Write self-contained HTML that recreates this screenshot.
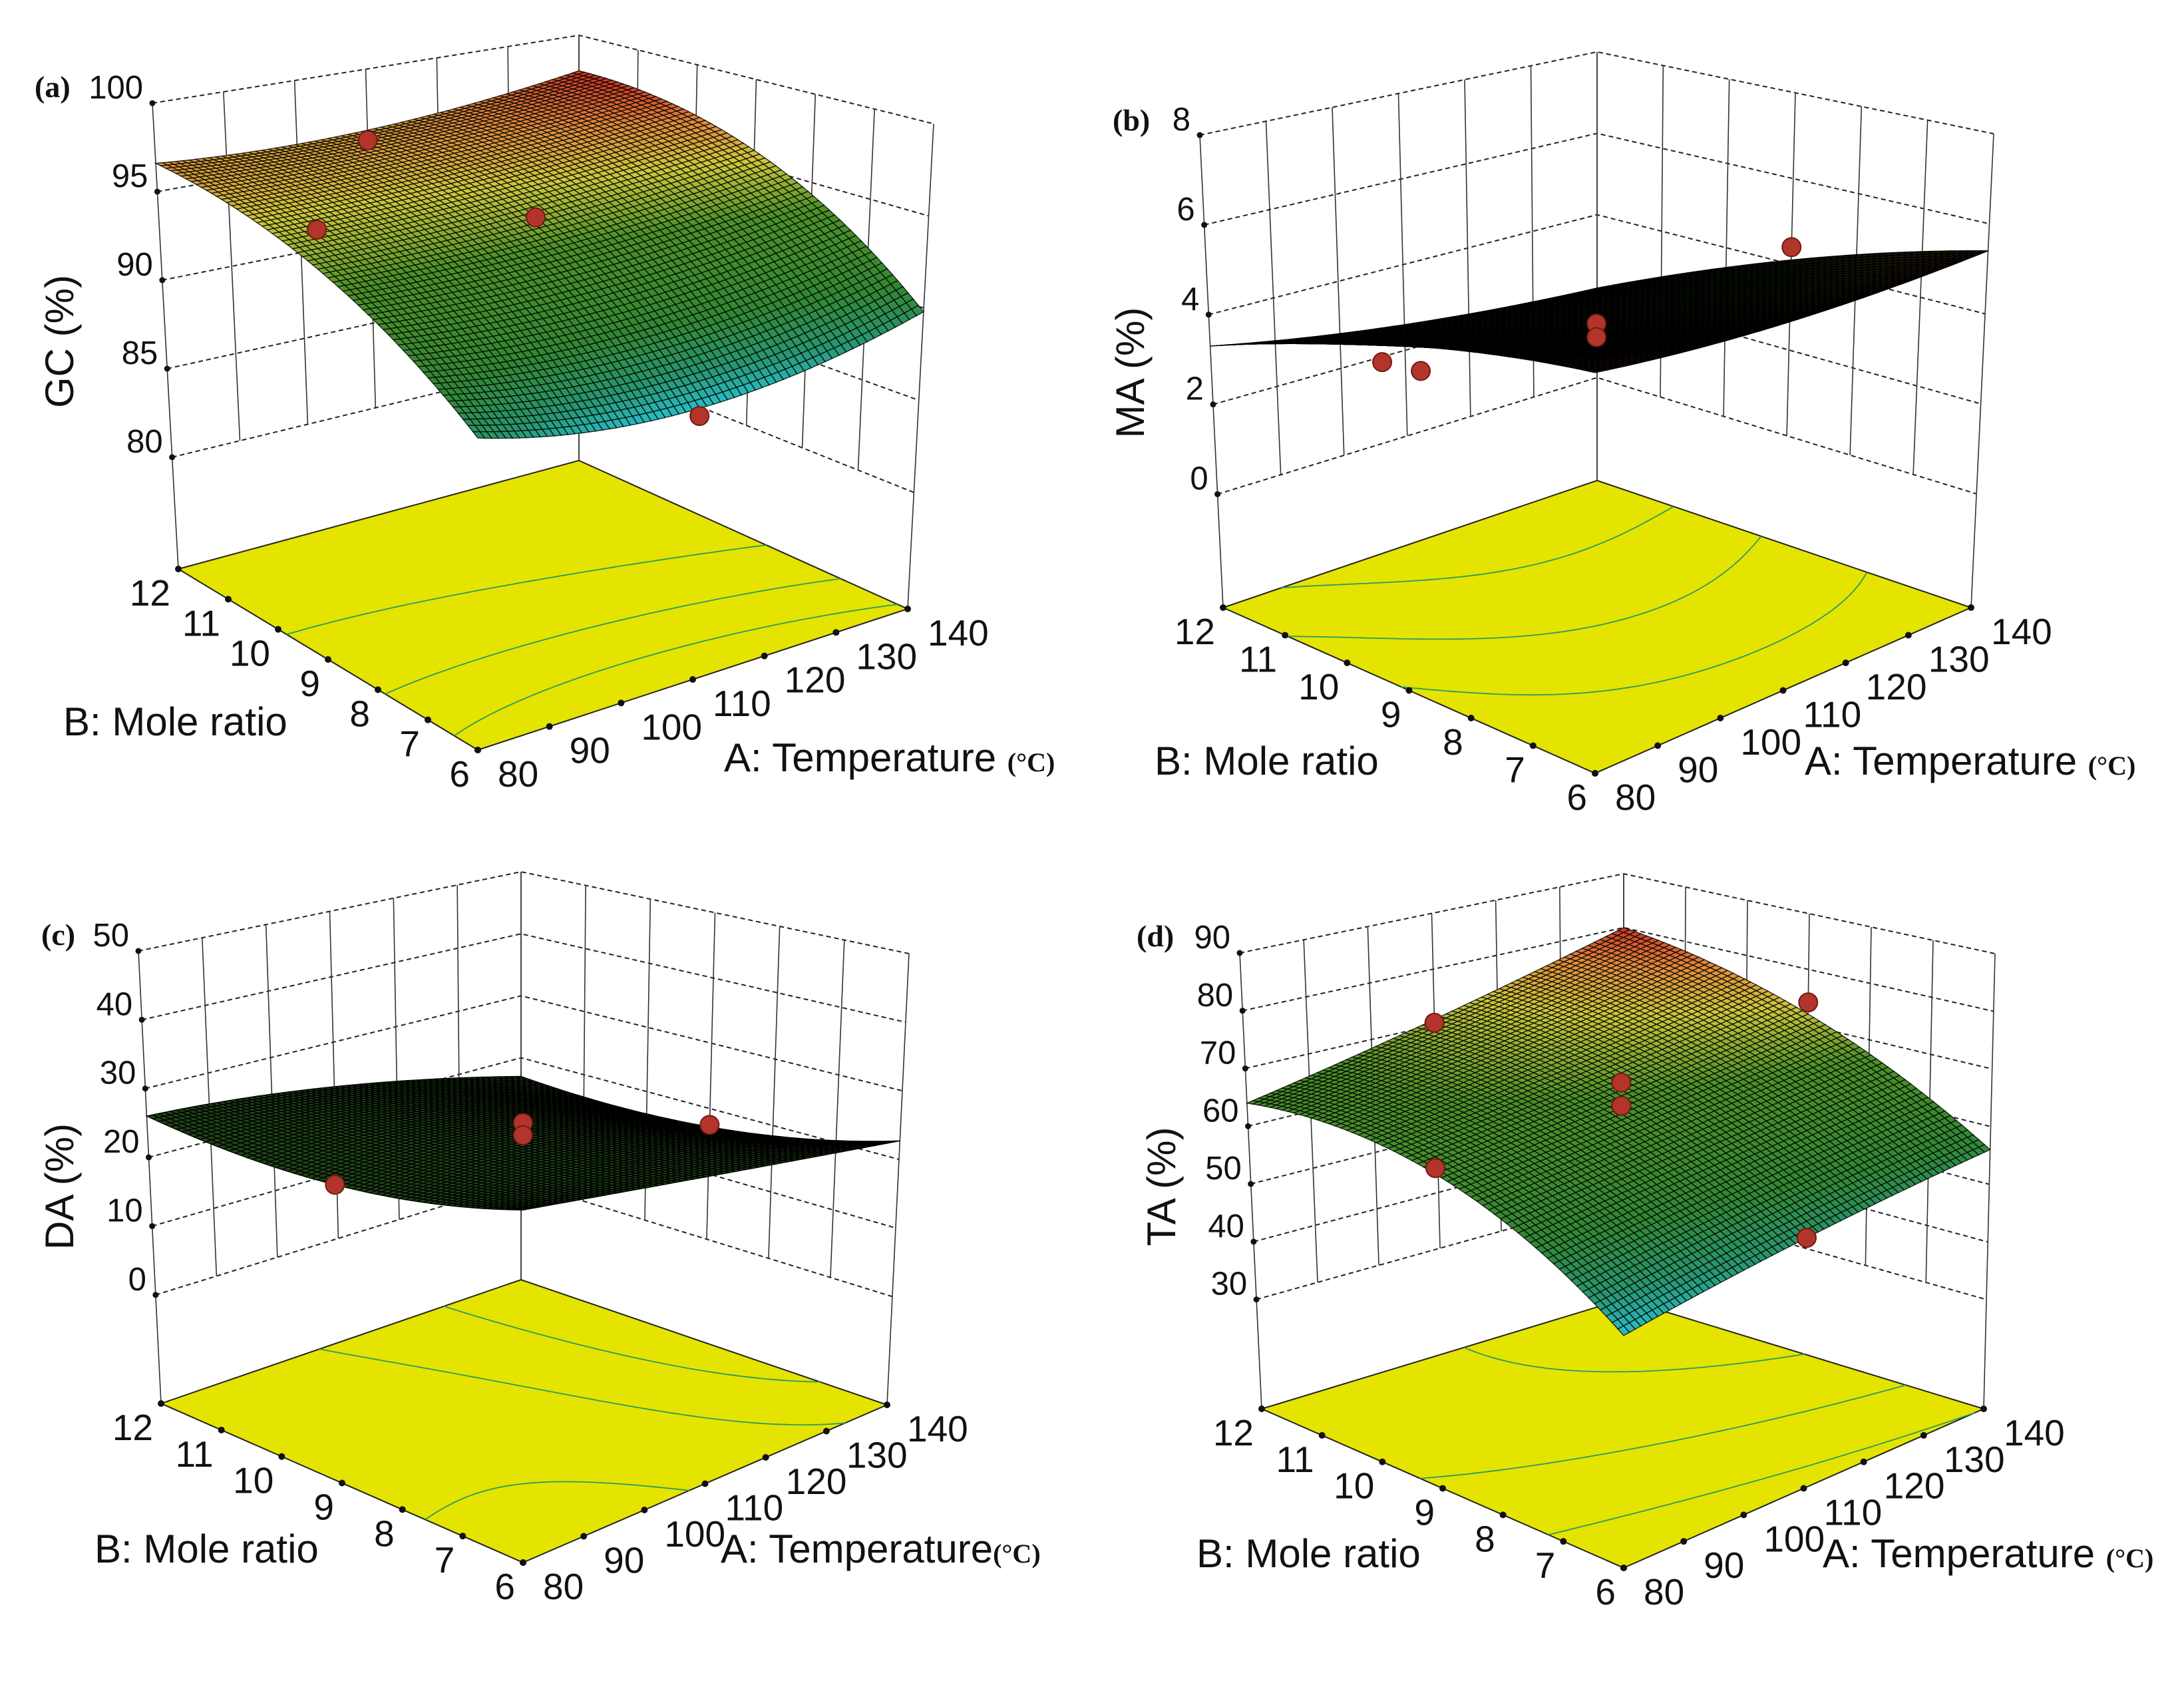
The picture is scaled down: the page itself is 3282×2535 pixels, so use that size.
<!DOCTYPE html>
<html><head><meta charset="utf-8"><style>
html,body{margin:0;padding:0;background:#fff;}
svg{display:block;}
text{font-family:"Liberation Sans",sans-serif;fill:#111;}
.pl{font-family:"Liberation Serif",serif;font-weight:bold;font-size:46px;}
.ttl{font-size:60px;}
.unit{font-family:"Liberation Serif",serif;font-weight:bold;font-size:40px;}
</style></head><body>
<svg id="chart" xmlns="http://www.w3.org/2000/svg" width="3282" height="2535" viewBox="0 0 3282 2535">
<rect x="0" y="0" width="3282" height="2535" fill="#fff"/>
<g id="layer"></g>
<text class="pl" x="52" y="146">(a)</text>
<text class="pl" x="1672" y="196">(b)</text>
<text class="pl" x="62" y="1420">(c)</text>
<text class="pl" x="1708" y="1422">(d)</text>
<text class="ttl" transform="translate(110,513) rotate(-90)" text-anchor="middle">GC (%)</text>
<text class="ttl" transform="translate(1719,560) rotate(-90)" text-anchor="middle">MA (%)</text>
<text class="ttl" transform="translate(110,1783) rotate(-90)" text-anchor="middle">DA (%)</text>
<text class="ttl" transform="translate(1766,1783) rotate(-90)" text-anchor="middle">TA (%)</text>
<text class="ttl" x="95" y="1105">B: Mole ratio</text>
<text class="ttl" x="1088" y="1159">A: Temperature <tspan class="unit">(°C)</tspan></text>
<text class="ttl" x="1735" y="1164">B: Mole ratio</text>
<text class="ttl" x="2712" y="1164">A: Temperature <tspan class="unit">(°C)</tspan></text>
<text class="ttl" x="142" y="2348">B: Mole ratio</text>
<text class="ttl" x="1083" y="2348">A: Temperature<tspan class="unit">(°C)</tspan></text>
<text class="ttl" x="1798" y="2355">B: Mole ratio</text>
<text class="ttl" x="2739" y="2355">A: Temperature <tspan class="unit">(°C)</tspan></text>
</svg>
<script>
// ---- data ----
const tempTicks = [80, 90, 100, 110, 120, 130, 140];
const moleTicks = [6, 7, 8, 9, 10, 11, 12];
const A_LEVELS = [80, 110, 140];
const B_LEVELS = [6, 9, 12];
// response grids: rows = B (6, 9, 12), cols = A (80, 110, 140)
const gcSurface = [[89.3, 87.8, 89.8], [94.4, 94.7, 95.9], [96.6, 96.4, 97.8]];
const maSurface = [[5.6, 5.3, 5.4], [4.8, 3.8, 4.1], [3.3, 2.6, 2.2]];
const daSurface = [[31, 27, 22.7], [25.6, 25, 17.2], [26, 23.2, 17]];
const taSurface = [[47.8, 52.5, 56], [63, 67, 72], [64, 71, 80]];
const gcTicks = [80, 85, 90, 95, 100];
const maTicks = [0, 2, 4, 6, 8];
const daTicks = [0, 10, 20, 30, 40, 50];
const taTicks = [30, 40, 50, 60, 70, 80, 90];
const gcPtsA = [110, 80, 110, 110], gcPtsB = [12, 9, 9, 6], gcPtsZ = [95.8, 96.5, 94.7, 87.4];
const maPtsA = [80, 80, 110, 110, 140], maPtsB = [9.3, 8.7, 9, 9, 9], maPtsZ = [4.3, 4.4, 4.0, 3.7, 4.4];
const daPtsA = [80, 110, 110, 140], daPtsB = [9, 9, 9, 9], daPtsZ = [25.6, 26.4, 24.6, 17.5];
const taPtsA = [110, 80, 110, 110, 140, 110], taPtsB = [12, 9, 9, 9, 9, 6], taPtsZ = [70.4, 64, 69.3, 65.3, 74.1, 52.5];

// ---- geometry (pixel layout, not data) ----
const panels = [
 {id:'a', grid:gcSurface, ticks:gcTicks, pa:gcPtsA, pb:gcPtsB, pz:gcPtsZ, dark:0.8, shade:1,
  Lt:[229,155],Lf:[268,855],Kt:[870,53],Kf:[870,692],Rt:[1403,186],Rf:[1364,915],Ft:[718,337],Ff:[718,1127]},
 {id:'b', grid:maSurface, ticks:maTicks, pa:maPtsA, pb:maPtsB, pz:maPtsZ, dark:1, shade:0.15,
  Lt:[1803,203],Lf:[1838,913],Kt:[2400,78],Kf:[2400,722],Rt:[2996,201],Rf:[2962,913],Ft:[2397,382],Ff:[2397,1162]},
 {id:'c', grid:daSurface, ticks:daTicks, pa:daPtsA, pb:daPtsB, pz:daPtsZ, dark:1, shade:0.5, green:true,
  Lt:[208,1429],Lf:[242,2109],Kt:[783,1310],Kf:[783,1923],Rt:[1366,1433],Rf:[1333,2111],Ft:[786,1603],Ff:[786,2348]},
 {id:'d', grid:taSurface, ticks:taTicks, pa:taPtsA, pb:taPtsB, pz:taPtsZ, dark:0.8, shade:1,
  Lt:[1863,1432],Lf:[1896,2117],Kt:[2440,1313],Kf:[2440,1952],Rt:[2998,1433],Rf:[2981,2117],Ft:[2440,1606],Ff:[2440,2356]}
];
const FRAC = 0.76;
const NS = 'http://www.w3.org/2000/svg';
const layer = document.getElementById('layer');
function mk(tag, attrs, parent){ const e=document.createElementNS(NS,tag); for(const k in attrs) e.setAttribute(k,attrs[k]); (parent||layer).appendChild(e); return e; }

function lag(u){ return [2*(u-0.5)*(u-1), -4*u*(u-1), 2*u*(u-0.5)]; }
function surfVal(grid, A, B){
  const la = lag((A-A_LEVELS[0])/(A_LEVELS[2]-A_LEVELS[0]));
  const lb = lag((B-B_LEVELS[0])/(B_LEVELS[2]-B_LEVELS[0]));
  let s=0; for(let i=0;i<3;i++) for(let j=0;j<3;j++) s += lb[i]*la[j]*grid[i][j];
  return s;
}
const stops=[[0,[40,190,200]],[0.12,[40,150,110]],[0.3,[50,135,50]],[0.6,[75,145,40]],[0.78,[205,200,60]],[0.9,[225,140,60]],[1,[205,55,35]]];
function cmap(t, shade){
  t=Math.max(0,Math.min(1,t));
  for(let i=1;i<stops.length;i++){ if(t<=stops[i][0]){ const a=stops[i-1],b=stops[i]; const f=(t-a[0])/(b[0]-a[0]);
    return 'rgb('+a[1].map((c,k)=>Math.round((c+f*(b[1][k]-c))*shade)).join(',')+')'; } }
  return 'rgb('+[205,55,35].map(c=>Math.round(c*shade)).join(',')+')';
}

panels.forEach(P=>{
  const g = mk('g', {});
  
  
  const zmin=P.ticks[0], zmax=P.ticks[P.ticks.length-1];
  function bil(F,R,L,K,u,v,k){ return F[k]*(1-u)*(1-v)+R[k]*u*(1-v)+L[k]*(1-u)*v+K[k]*u*v; }
  function proj(A,B,z){
    const u=(A-80)/60, v=(B-6)/6;
    const tx=bil(P.Ft,P.Rt,P.Lt,P.Kt,u,v,0), ty=bil(P.Ft,P.Rt,P.Lt,P.Kt,u,v,1);
    const fx=bil(P.Ff,P.Rf,P.Lf,P.Kf,u,v,0), fy=bil(P.Ff,P.Rf,P.Lf,P.Kf,u,v,1);
    const t = (z===null)?1:(zmax-z)/(zmax-zmin)*FRAC;
    return [tx+t*(fx-tx), ty+t*(fy-ty)];
  }
  const pt=p=>p[0].toFixed(1)+','+p[1].toFixed(1);
  P.ticks.forEach(z=>{
    const l = mk('polyline',{points:[proj(80,12,z),proj(140,12,z),proj(140,6,z)].map(pt).join(' '),fill:'none',stroke:'#222','stroke-width':2,'stroke-dasharray':'7,5'},g);
    
    
  });
  tempTicks.forEach(A=>{
    const bottom = (A===80||A===140)?null:zmin;
    const l = mk('line',{x1:proj(A,12,zmax)[0],y1:proj(A,12,zmax)[1],x2:proj(A,12,bottom)[0],y2:proj(A,12,bottom)[1],stroke:'#333','stroke-width':1.6},g);
    
    
  });
  moleTicks.forEach(B=>{
    const bottom = (B===6||B===12)?null:zmin;
    const l = mk('line',{x1:proj(140,B,zmax)[0],y1:proj(140,B,zmax)[1],x2:proj(140,B,bottom)[0],y2:proj(140,B,bottom)[1],stroke:'#333','stroke-width':1.6},g);
    
    
  });
  P.ticks.forEach(z=>{
    const p=proj(80,12,z);
    const d=mk('circle',{cx:p[0],cy:p[1],r:4.5,fill:'#111'},g);
    
    
    const t=mk('text',{x:p[0]-14,y:p[1]-7,'text-anchor':'end','font-size':49},g);
    t.textContent=String(z);
    
    
  });
  const floor = mk('polygon',{points:[proj(80,6,null),proj(140,6,null),proj(140,12,null),proj(80,12,null)].map(pt).join(' '),fill:'#e4e400',stroke:'#222','stroke-width':2},g);
  
  
  const N=64, Z=[], S=[];
  let lo=Infinity, hi=-Infinity;
  for(let i=0;i<=N;i++){ Z.push([]); S.push([]);
    for(let j=0;j<=N;j++){ const A=80+60*i/N, B=6+6*j/N; const z=surfVal(P.grid,A,B);
      Z[i].push(z); S[i].push(proj(A,B,z)); lo=Math.min(lo,z); hi=Math.max(hi,z);} }
  const cg = mk('g',{},g);
  
  
  let dpath='';
  for(let k=1;k<=3;k++){
    const lev = lo+(hi-lo)*k/4;
    for(let i=0;i<N;i++) for(let j=0;j<N;j++){
      const c=[[i,j],[i+1,j],[i+1,j+1],[i,j+1]];
      const seg=[];
      for(let e=0;e<4;e++){
        const p=c[e], q=c[(e+1)%4];
        const zp=Z[p[0]][p[1]], zq=Z[q[0]][q[1]];
        if((zp-lev)*(zq-lev)<0){ const f=(lev-zp)/(zq-zp);
          const ii=p[0]+f*(q[0]-p[0]), jj=p[1]+f*(q[1]-p[1]);
          seg.push(proj(80+60*ii/N,6+6*jj/N,null)); }
      }
      if(seg.length>=2) dpath+='M'+pt(seg[0])+'L'+pt(seg[1]);
    }
  }
  mk('path',{d:dpath,stroke:'#2a9a60','stroke-width':1.8,fill:'none'},cg);
  moleTicks.forEach(B=>{
    const p=proj(80,B,null);
    const d=mk('circle',{cx:p[0],cy:p[1],r:5,fill:'#111'},g);
    
    
    const t=mk('text',{x:p[0]-12,y:p[1]+55,'text-anchor':'end','font-size':55},g);
    t.textContent=String(B);
    
    
  });
  tempTicks.forEach(A=>{
    const p=proj(A,6,null);
    const d=mk('circle',{cx:p[0],cy:p[1],r:5,fill:'#111'},g);
    
    
    const t=mk('text',{x:p[0]+30,y:p[1]+55,'text-anchor':'start','font-size':55},g);
    t.textContent=String(A);
    
    
  });
  const quads=[];
  for(let i=0;i<N;i++) for(let j=0;j<N;j++) quads.push([i,j]);
  quads.sort((a,b)=>(b[0]+b[1])-(a[0]+a[1]));
  const sg = mk('g',{},g);
  
  
  quads.forEach(([i,j])=>{
    const zc=(Z[i][j]+Z[i+1][j]+Z[i][j+1]+Z[i+1][j+1])/4;
    const fill = P.green ? cmap(0.45, P.shade) : cmap((zc-lo)/(hi-lo||1), P.shade);
    mk('polygon',{points:[S[i][j],S[i+1][j],S[i+1][j+1],S[i][j+1]].map(pt).join(' '),fill:fill,stroke:'rgba(0,0,0,'+P.dark+')','stroke-width':1.4},sg);
  });
  P.pa.forEach((A,k)=>{
    const p=proj(A,P.pb[k],P.pz[k]);
    const c=mk('circle',{cx:p[0],cy:p[1],r:14,fill:'#b3342b',stroke:'#6e1c14','stroke-width':2},g);
    
    
  });
});
</script>
</body></html>
